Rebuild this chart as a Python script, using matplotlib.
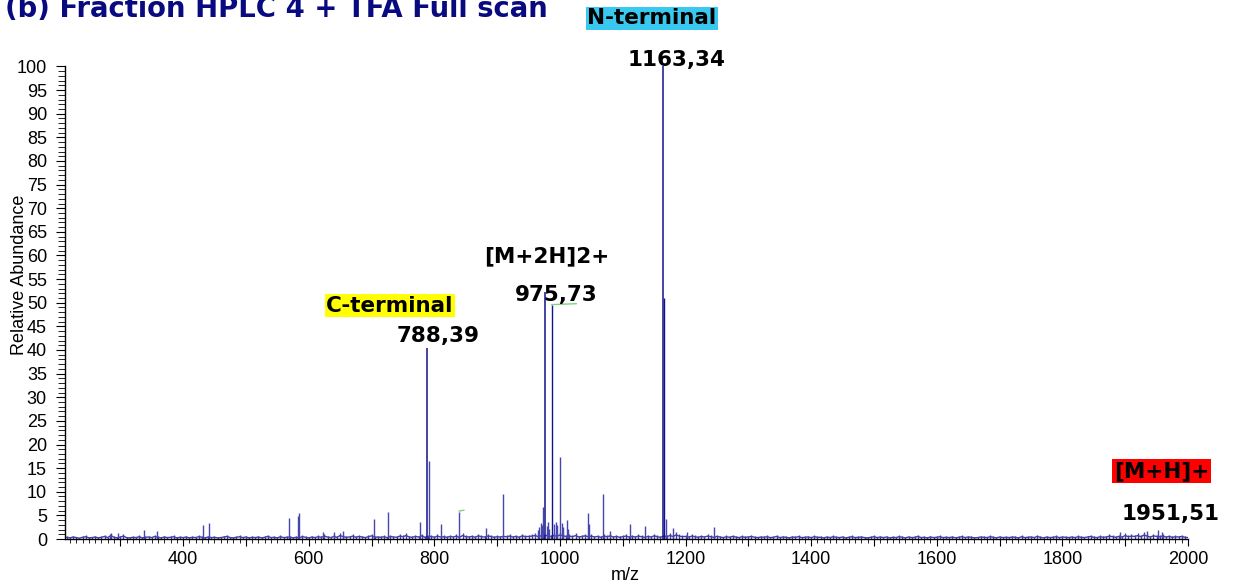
import numpy as np
import matplotlib
matplotlib.use("Agg")
import matplotlib.pyplot as plt
from matplotlib.ticker import MultipleLocator, FuncFormatter

# ---------------- data ----------------
# labelled ions (m/z, relative abundance %)
labelled_mz = [788.39, 975.73, 1163.34]
labelled_abund = [40.4, 52.2, 100.0]

# other resolved peaks (m/z, relative abundance %)
peak_mz = [283.4, 296.7, 337.6, 357.8, 432.0, 441.1, 568.0, 583.3, 584.9,
           622.0, 641.0, 655.0, 703.8, 726.1, 776.6, 790.9, 811.0, 839.6,
           882.2, 909.7, 965.0, 967.3, 969.7, 971.0, 973.5, 979.0, 981.0,
           983.0, 987.0, 991.0, 993.0, 995.0, 1000.0, 1003.0, 1005.0,
           1010.7, 1013.0, 1044.1, 1045.7, 1068.0, 1079.6, 1111.9, 1135.4,
           1166.5, 1168.8, 1179.5, 1202.7, 1245.2, 1892.0, 1935.0, 1951.5,
           1958.0]
peak_abund = [1.0, 1.2, 1.9, 1.7, 3.0, 3.3, 4.5, 4.9, 5.4,
              1.4, 1.5, 1.6, 4.2, 5.7, 3.7, 16.6, 3.2, 5.8,
              2.3, 9.5, 2.0, 2.6, 3.3, 3.0, 6.7, 2.8, 3.5,
              2.2, 49.5, 3.2, 3.6, 3.0, 17.3, 3.3, 2.5,
              4.0, 2.2, 5.4, 3.2, 9.5, 1.7, 3.2, 2.8,
              51.0, 4.2, 2.3, 1.4, 2.5, 1.5, 1.6, 1.8,
              1.4]

# baseline noise, tenths of a percent, one value every 5 m/z from 215 to 2000
noise_start, noise_step = 215, 5
noise_tenths = [
    6, 4, 7, 5, 3, 6, 8, 4, 5, 7, 4, 6, 9, 5, 12, 6, 4, 7, 10, 5,
    4, 6, 5, 8, 4, 6, 7, 5, 9, 6, 4, 7, 5, 6, 8, 4, 6, 5, 7, 4,
    6, 5, 8, 6, 4, 7, 5, 6, 4, 5, 7, 9, 5, 4, 6, 8, 5, 7, 4, 6,
    5, 7, 4, 6, 9, 5, 6, 4, 8, 5, 6, 7, 4, 6, 5, 8, 6, 4, 7, 5,
    8, 6, 10, 7, 5, 9, 6, 12, 8, 6, 7, 10, 6, 9, 7, 5, 8, 11, 6, 7,
    6, 8, 5, 9, 7, 6, 10, 8, 12, 7, 6, 9, 7, 11, 6, 8, 9, 6, 10, 7,
    8, 6, 9, 7, 10, 6, 12, 8, 7, 9, 6, 11, 8, 7, 10, 9, 6, 8, 7, 9,
    8, 10, 7, 9, 6, 11, 8, 9, 10, 12, 9, 11, 10, 13, 9, 12, 10, 14, 11, 9,
    10, 8, 12, 7, 9, 11, 8, 10, 7, 9, 6, 10, 8, 11, 7, 9, 6, 8, 10, 7,
    9, 7, 10, 8, 6, 9, 7, 11, 8, 6, 10, 8, 12, 9, 14, 10, 8, 9, 7, 10,
    8, 6, 9, 7, 10, 8, 6, 9, 7, 5, 8, 6, 9, 7, 5, 8, 6, 7, 9, 6,
    5, 7, 6, 8, 5, 6, 9, 5, 7, 6, 4, 7, 6, 8, 5, 6, 7, 5, 8, 6,
    6, 4, 7, 5, 8, 6, 5, 7, 4, 6, 8, 5, 6, 7, 5, 4, 6, 8, 5, 7,
    5, 7, 4, 6, 5, 8, 6, 4, 7, 5, 6, 9, 5, 6, 4, 7, 5, 6, 8, 5,
    6, 5, 7, 4, 6, 8, 5, 7, 6, 4, 5, 7, 6, 5, 8, 6, 4, 7, 5, 6,
    5, 7, 6, 4, 8, 5, 6, 7, 5, 9, 6, 4, 7, 5, 6, 8, 5, 7, 6, 5,
    7, 5, 8, 6, 5, 7, 9, 6, 5, 8, 6, 7, 10, 8, 6, 9, 7, 12, 8, 10,
    9, 12, 8, 14, 10, 7, 11, 9, 8, 10, 7, 9, 6, 8, 7, 9, 6, 5,
]

# small green centroid flags on two peaks: start m/z, end m/z, level %
flag_start = [839.6, 987.0]
flag_end = [847.0, 1026.0]
flag_level = [5.9, 49.6]

x_min, x_max = 212, 2000
y_min, y_max = 0, 100

# ---------------- figure ----------------
W, H = 1236, 586
fig = plt.figure(figsize=(W / 100, H / 100), dpi=100)


def fx(px):
    return px / W


def fy(py):
    return 1 - py / H


ax_left, ax_right, ax_top, ax_bottom = 65, 1188, 66.5, 539
ax = fig.add_axes([fx(ax_left), fy(ax_bottom),
                   (ax_right - ax_left) / W, (ax_bottom - ax_top) / H])

navy = "#12128a"
light_navy = "#4646ad"
noise_col = "#4040a8"

noise_mz = noise_start + noise_step * np.arange(len(noise_tenths))
noise_abund = np.array(noise_tenths) / 10.0
# noise sticks plus the trace joining their tops, giving the dense baseline band
ax.vlines(noise_mz, 0, noise_abund, color=noise_col, lw=1.0)
ax.plot(noise_mz, noise_abund * 0.6, color=noise_col, lw=1.0)

peak_colours = [navy if a >= 40 else light_navy for a in peak_abund]
ax.vlines(peak_mz, 0, peak_abund, colors=peak_colours, lw=1.0, clip_on=False)
ax.vlines(labelled_mz, 0, labelled_abund, color=navy, lw=1.1, clip_on=False)
for s, e, lv in zip(flag_start, flag_end, flag_level):
    ax.plot([s, e], [lv, lv + 0.2], color="#7fd37f", lw=1.0)

ax.set_xlim(x_min, x_max)
ax.set_ylim(y_min, y_max)

for side in ("top", "right"):
    ax.spines[side].set_visible(False)
for side in ("left", "bottom"):
    ax.spines[side].set_linewidth(1.0)
    ax.spines[side].set_color("black")

ax.xaxis.set_major_locator(MultipleLocator(100))
ax.xaxis.set_minor_locator(MultipleLocator(10))
ax.xaxis.set_major_formatter(
    FuncFormatter(lambda v, p: f"{int(v)}" if int(round(v)) % 200 == 0 else ""))
ax.yaxis.set_major_locator(MultipleLocator(5))
ax.yaxis.set_minor_locator(MultipleLocator(1))
ax.yaxis.set_major_formatter(FuncFormatter(lambda v, p: f"{int(round(v))}"))

ax.tick_params(axis="x", which="major", length=5, width=0.8, pad=4,
               direction="out", labelsize=13)
ax.tick_params(axis="x", which="minor", length=3, width=0.6, direction="out")
ax.tick_params(axis="y", which="major", length=6.5, width=0.8, pad=6.5,
               direction="out", labelsize=13)
ax.tick_params(axis="y", which="minor", length=5, width=0.6, direction="out")
for lab in ax.get_xticklabels() + ax.get_yticklabels():
    lab.set_fontfamily("Liberation Sans")

fig.text(fx(20), fy(275), "Relative Abundance", rotation=90, ha="center",
         va="center", fontsize=13, family="Liberation Sans")
fig.text(fx(625), fy(576), "m/z", ha="center", va="center", fontsize=13,
         family="Liberation Sans")

# title
fig.text(fx(5), fy(17), "(b) Fraction HPLC 4 + TFA Full scan", ha="left",
         va="baseline", fontsize=19.8, fontweight="bold", color="#0a0a80",
         family="DejaVu Sans")

ann = dict(ha="center", va="center", fontsize=15.5, fontweight="bold",
           family="DejaVu Sans", color="black")


def boxed(x, y, s, colour):
    fig.text(fx(x), fy(y), s,
             bbox=dict(boxstyle="square,pad=0.08", fc=colour, ec="none"), **ann)


boxed(652, 18.5, "N-terminal", "#38c8f0")
boxed(390, 305.5, "C-terminal", "#ffff00")
boxed(1161.5, 471, "[M+H]+", "#ff0000")

fig.text(fx(677), fy(60), f"{labelled_mz[2]:.2f}".replace(".", ","), **ann)
fig.text(fx(547), fy(256), "[M+2H]2+", **ann)
fig.text(fx(556.5), fy(295), f"{labelled_mz[1]:.2f}".replace(".", ","), **ann)
fig.text(fx(438.5), fy(336), f"{labelled_mz[0]:.2f}".replace(".", ","), **ann)
fig.text(fx(1171), fy(514), "1951,51", **ann)

fig.savefig("out.png", dpi=100)
